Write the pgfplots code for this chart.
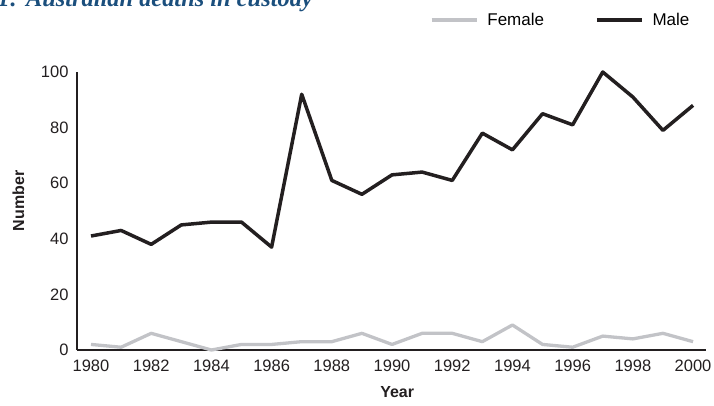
\documentclass[border=0pt]{standalone}
\usepackage{fontspec}
\setmainfont{Liberation Sans}
\newfontfamily\titlefont{Liberation Serif}
\usepackage{pgfplots}
\pgfplotsset{compat=1.18}
\definecolor{maleC}{HTML}{231F20}
\definecolor{femC}{HTML}{C2C3C7}
\definecolor{titleC}{HTML}{1B4F7D}
\begin{document}
\begin{tikzpicture}[x=1pt,y=1pt]
\begin{axis}[
  at={(77pt,55pt)}, anchor=south west,
  scale only axis, width=629pt, height=278pt,
  xmin=1979.535, xmax=2000.43, ymin=0, ymax=100,
  axis lines=left,
  axis line style={-, line width=1.5pt, color=maleC},
  xtick={1980,1982,...,2000}, ytick={0,20,...,100},
  major tick length=0pt,
  /pgf/number format/assume math mode=true,
  xticklabel style={/pgf/number format/1000 sep={}, yshift=-6pt},
  yticklabel style={xshift=-5pt},
  tick label style={font=\fontsize{16.5}{19}\selectfont, text=maleC},
  xlabel={\textbf{Year}}, ylabel={\textbf{Number}},
  label style={font=\fontsize{16}{19}\selectfont, text=maleC},
  xlabel style={at={(axis description cs:0.509,-0.151)}, anchor=center},
  ylabel style={at={(axis description cs:-0.093,0.536)}, anchor=center},
  clip=false,
  legend columns=2,
  legend image code/.code={\draw[#1] (0pt,0pt) -- (45pt,0pt);},
  legend style={at={(axis description cs:0.561,1.187)}, anchor=west, draw=none, fill=none, inner sep=0pt,
    font=\fontsize{17}{20}\selectfont,
    /tikz/every odd column/.append style={column sep=7pt},
    /tikz/every even column/.append style={column sep=49pt}},
]
\addplot[femC, line width=3.3pt, line join=round] coordinates {
(1980,2) (1981,1) (1982,6) (1983,3) (1984,0) (1985,2) (1986,2) (1987,3) (1988,3) (1989,6) (1990,2)
(1991,6) (1992,6) (1993,3) (1994,9) (1995,2) (1996,1) (1997,5) (1998,4) (1999,6) (2000,3)};
\addlegendentry{Female}
\addplot[maleC, line width=3.5pt, line join=round] coordinates {
(1980,41) (1981,43) (1982,38) (1983,45) (1984,46) (1985,46) (1986,37) (1987,92) (1988,61) (1989,56) (1990,63)
(1991,64) (1992,61) (1993,78) (1994,72) (1995,85) (1996,81) (1997,100) (1998,91) (1999,79) (2000,88)};
\addlegendentry{Male}
\end{axis}
\node[anchor=base east, inner sep=0pt, text=titleC, font=\titlefont\bfseries\itshape\fontsize{24.4}{28}\selectfont] at (313pt,398pt) {Figure 1: Australian deaths in custody};
\pgfresetboundingbox
\path[use as bounding box] (0pt,0pt) rectangle (714pt,405pt);
\end{tikzpicture}
\end{document}
